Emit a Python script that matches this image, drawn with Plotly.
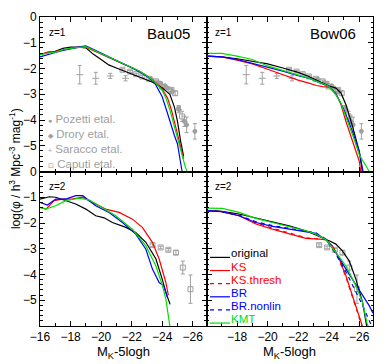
import plotly.graph_objects as go
from plotly.subplots import make_subplots

# ---- model curves, z=1, Bau05 (top left)
bau1_black_x = [-16, -16.5, -17, -17.5, -18, -18.5, -19, -19.5, -20, -20.5, -21, -21.5, -22, -22.5, -23, -23.5, -24, -24.5, -24.8, -25.0, -25.2, -25.4]
bau1_black_y = [-1.46, -1.38, -1.33, -1.22, -1.17, -1.17, -1.2, -1.45, -1.65, -1.86, -1.98, -2.1, -2.22, -2.33, -2.44, -2.56, -2.75, -3.0, -3.5, -4.05, -4.8, -5.4]
bau1_red_x = [-16, -16.5, -17, -17.5, -18, -18.5, -19, -19.5, -20, -20.5, -21, -21.5, -22, -22.5, -23, -23.5, -24, -24.35, -24.6, -24.85, -25.1, -25.4]
bau1_red_y = [-1.46, -1.36, -1.33, -1.28, -1.23, -1.18, -1.17, -1.3, -1.42, -1.56, -1.7, -1.83, -1.96, -2.1, -2.28, -2.5, -2.8, -3.15, -3.6, -4.19, -4.8, -5.5]
bau1_blue_x = [-16, -16.5, -17, -17.5, -18, -18.5, -19, -19.5, -20, -20.5, -21, -21.5, -22, -22.5, -23, -23.5, -24, -24.3, -24.57, -24.8, -25.0, -25.3]
bau1_blue_y = [-1.55, -1.45, -1.38, -1.3, -1.22, -1.17, -1.12, -1.25, -1.4, -1.55, -1.7, -1.83, -1.96, -2.12, -2.3, -2.55, -3.1, -3.65, -4.19, -4.6, -4.93, -6.0]
bau1_green_x = [-16, -16.5, -17, -17.5, -18, -18.5, -19, -19.5, -20, -20.5, -21, -21.5, -22, -22.5, -23, -23.5, -24, -24.24, -24.5, -24.78, -25.1, -25.5, -25.8]
bau1_green_y = [-1.46, -1.4, -1.38, -1.27, -1.22, -1.18, -1.15, -1.28, -1.42, -1.56, -1.7, -1.83, -1.96, -2.1, -2.28, -2.52, -2.85, -3.15, -3.6, -4.19, -4.93, -5.8, -6.25]

# ---- model curves, z=1, Bow06 (top right)
bow1_x = [-16, -17, -18, -19, -20, -21, -22, -22.7, -23.2, -23.6, -24.03, -24.47, -24.8, -25.13, -25.56, -26.0]
bow1_black_y = [-1.52, -1.55, -1.62, -1.72, -1.82, -1.98, -2.15, -2.31, -2.45, -2.57, -2.68, -2.76, -2.95, -3.41, -4.25, -5.22]
bow1_red_y = [-1.52, -1.55, -1.68, -1.82, -2.03, -2.25, -2.45, -2.57, -2.66, -2.7, -2.72, -2.96, -3.4, -4.06, -4.83, -5.6]
bow1_blue_y = [-1.52, -1.55, -1.65, -1.8, -1.97, -2.1, -2.28, -2.38, -2.5, -2.6, -2.7, -3.0, -3.35, -3.8, -4.45, -5.22]
bow1_green_y = [-1.41, -1.41, -1.52, -1.65, -1.9, -2.08, -2.25, -2.38, -2.5, -2.58, -2.7, -3.02, -3.35, -3.85, -4.57, -5.35]
bow1_end_x = {"black": -26.2, "red": -26.1, "blue": -26.25, "green": -26.66}

# ---- model curves, z=2, Bau05 (bottom left)
bau2_black_x = [-16, -16.6, -17.03, -17.69, -18.34, -19, -19.65, -20.2, -20.74, -21.62, -22.27, -22.93, -23.59, -24.0, -24.24, -24.52]
bau2_black_y = [-1.07, -0.98, -1.0, -1.13, -1.26, -1.46, -1.72, -1.8, -1.98, -2.17, -2.37, -2.75, -3.4, -4.18, -4.7, -5.16]
bau2_red_x = [-16, -16.4, -16.92, -17.46, -18.1, -18.77, -19.43, -20.3, -21.18, -22.05, -22.7, -23.36, -23.8, -24.24, -24.4]
bau2_red_y = [-1.39, -1.46, -1.13, -1.07, -1.07, -1.0, -1.2, -1.46, -1.59, -1.85, -2.17, -2.75, -3.4, -4.31, -4.8]
bau2_blue_x = [-16, -16.48, -17.03, -17.69, -18.34, -18.8, -19.65, -20.52, -21.4, -22.27, -22.93, -23.36, -23.8, -24.1, -24.35]
bau2_blue_y = [-1.2, -1.3, -1.07, -1.07, -0.94, -0.94, -1.33, -1.59, -1.98, -2.43, -3.02, -3.79, -4.31, -4.44, -4.9]
bau2_green_x = [-16, -16.37, -17.03, -17.69, -18.56, -19.2, -19.87, -20.96, -22.05, -22.93, -23.59, -24.02, -24.24, -24.46, -24.55]
bau2_green_y = [-1.39, -1.46, -1.33, -1.13, -1.04, -1.1, -1.33, -1.72, -2.24, -2.89, -3.67, -4.44, -4.96, -5.87, -6.2]

# ---- model curves, z=2, Bow06 (bottom right)
bow2_black_x = [-16, -17, -18.13, -19.23, -20.31, -21.41, -22.5, -23.6, -24.03, -24.47, -24.9, -25.34, -25.78, -26.22, -26.44, -26.5]
bow2_black_y = [-1.52, -1.55, -1.65, -1.8, -1.95, -2.11, -2.3, -2.56, -2.69, -2.82, -3.08, -3.47, -4.18, -5.09, -5.87, -6.05]
bow2_red_x = [-16, -17, -18.13, -19.23, -20.31, -21.41, -22.5, -23.38, -23.82, -24.25, -24.69, -25.13, -25.56, -26.0, -26.2]
bow2_red_y = [-1.52, -1.56, -1.72, -2.04, -2.24, -2.43, -2.6, -2.63, -2.65, -2.89, -3.4, -4.05, -4.83, -5.61, -6.0]
bow2_redthr_y = [-1.52, -1.56, -1.7, -2.0, -2.2, -2.4, -2.57, -2.62, -2.65, -2.92, -3.45, -4.1, -4.9, -5.7, -6.05]
bow2_blue_x = [-16, -17, -18.13, -19.23, -20.31, -21.41, -22.5, -23.16, -23.82, -24.47, -25.13, -25.56, -26.22, -26.66, -26.9]
bow2_blue_y = [-1.52, -1.56, -1.72, -1.98, -2.13, -2.24, -2.34, -2.4, -2.65, -3.14, -3.79, -4.18, -4.83, -5.22, -5.5]
bow2_bluenl_y = [-1.52, -1.56, -1.7, -1.95, -2.1, -2.2, -2.3, -2.38, -2.63, -3.2, -3.9, -4.4, -5.2, -5.8, -6.1]
bow2_green_x = [-16, -17.04, -18.13, -19.23, -20.31, -21.41, -22.5, -23.16, -23.82, -24.47, -25.13, -25.78, -26.22, -26.5, -26.7]
bow2_green_y = [-1.42, -1.43, -1.59, -1.82, -1.98, -2.13, -2.3, -2.43, -2.65, -3.14, -3.67, -4.44, -5.09, -5.87, -6.2]

# ---- observations, z=1
pozetti_x = [-23.9, -24.35, -25.07, -25.6, -26.14]
pozetti_y = [-2.57, -2.76, -3.54, -4.19, -4.44]
pozetti_err = [0.05, 0.06, 0.1, 0.3, 0.3]
drory_x = [-23.3, -23.75, -24.2, -24.65, -25.1, -25.45]
drory_y = [-2.42, -2.55, -2.68, -2.9, -3.6, -4.05]
drory_err = [0.04, 0.05, 0.06, 0.08, 0.12, 0.2]
saracco_x = [-18.6, -19.65, -20.6, -21.6]
saracco_y = [-2.24, -2.38, -2.29, -2.38]
saracco_err = [0.36, 0.23, 0.1, 0.1]
caputi1_x = [-21.4, -21.9, -22.3, -22.7, -23.15, -23.6, -24.0, -24.6, -24.85, -25.3]
caputi1_y = [-2.05, -2.12, -2.22, -2.31, -2.4, -2.5, -2.7, -2.83, -2.96, -3.86]
caputi1_err = [0.04, 0.04, 0.04, 0.04, 0.04, 0.05, 0.05, 0.06, 0.08, 0.2]
# ---- observations, z=2
caputi2_x = [-23.37, -23.9, -24.4, -24.9, -25.35, -25.85]
caputi2_y = [-2.86, -2.95, -3.04, -3.15, -3.73, -4.57]
caputi2_err = [0.05, 0.05, 0.05, 0.08, 0.25, 0.55]

legend_models = ["original", "KS", "KS.thresh", "BR", "BR.nonlin", "KMT"]
legend_obs = ["Pozetti etal.", "Drory etal.", "Saracco etal.", "Caputi etal."]

BLACK, RED, BLUE, GREEN, GREY = "#000000", "#ff0000", "#0000ff", "#00e000", "#a0a0a0"
FONT = "Liberation Sans, Arial, Helvetica, sans-serif"

fig = make_subplots(rows=2, cols=2, horizontal_spacing=0, vertical_spacing=0)


def obs(x, y, err, symbol, row, col, size=4):
    fig.add_trace(go.Scatter(
        x=x, y=y, mode="markers",
        error_y=dict(type="data", array=err, color=GREY, thickness=1, width=2),
        marker=dict(symbol=symbol, size=size, color=GREY, line=dict(color=GREY, width=1)),
        showlegend=False), row=row, col=col)


def curve(x, y, color, row, col, dash="solid"):
    fig.add_trace(go.Scatter(x=x, y=y, mode="lines",
                             line=dict(color=color, width=1.2, dash=dash),
                             showlegend=False), row=row, col=col)


for c in (1, 2):
    obs(saracco_x, saracco_y, saracco_err, "line-ew", 1, c, size=5)
    obs(caputi1_x, caputi1_y, caputi1_err, "square-open", 1, c, size=5)
    obs(drory_x, drory_y, drory_err, "diamond", 1, c)
    obs(pozetti_x, pozetti_y, pozetti_err, "circle", 1, c)
    obs(caputi2_x, caputi2_y, caputi2_err, "square-open", 2, c, size=5)

curve(bau1_black_x, bau1_black_y, BLACK, 1, 1)
curve(bau1_red_x, bau1_red_y, RED, 1, 1)
curve(bau1_blue_x, bau1_blue_y, BLUE, 1, 1)
curve(bau1_green_x, bau1_green_y, GREEN, 1, 1)

for name, col, ys in [("black", BLACK, bow1_black_y), ("red", RED, bow1_red_y),
                      ("blue", BLUE, bow1_blue_y), ("green", GREEN, bow1_green_y)]:
    curve(bow1_x + [bow1_end_x[name]], ys + [-6.0], col, 1, 2)

curve(bau2_black_x, bau2_black_y, BLACK, 2, 1)
curve(bau2_red_x, bau2_red_y, RED, 2, 1)
curve(bau2_blue_x, bau2_blue_y, BLUE, 2, 1)
curve(bau2_green_x, bau2_green_y, GREEN, 2, 1)

curve(bow2_black_x, bow2_black_y, BLACK, 2, 2)
curve(bow2_red_x, bow2_red_y, RED, 2, 2)
curve(bow2_red_x, bow2_redthr_y, RED, 2, 2, dash="4px,4px")
curve(bow2_blue_x, bow2_blue_y, BLUE, 2, 2)
curve(bow2_blue_x, bow2_bluenl_y, BLUE, 2, 2, dash="4px,4px")
curve(bow2_green_x, bow2_green_y, GREEN, 2, 2)

xmajor = [-16, -18, -20, -22, -24, -26]
ymajor = [0, -1, -2, -3, -4, -5]
axis_common = dict(showline=True, linecolor="black", linewidth=1, mirror="allticks",
                   ticks="inside", ticklen=5, tickcolor="black", showgrid=False, zeroline=False,
                   automargin=False,
                   tickfont=dict(family=FONT, size=12, color="black"))

for r in (1, 2):
    for c in (1, 2):
        fig.update_xaxes(axis_common, range=[-16, -26.9], row=r, col=c,
                         tickvals=xmajor if c == 1 else xmajor[1:],
                         showticklabels=(r == 2),
                         minor=dict(ticks="inside", dtick=1, ticklen=3, tickcolor="black"))
        fig.update_yaxes(axis_common, range=[-6, 0], row=r, col=c,
                         tickvals=ymajor, showticklabels=(c == 1),
                         minor=dict(ticks="inside", dtick=0.2, ticklen=2.5, tickcolor="black"))

ann = []
for i, (xr, yr) in enumerate([("x", "y"), ("x2", "y2"), ("x3", "y3"), ("x4", "y4")]):
    ann.append(dict(text="z=1" if i < 2 else "z=2", xref=xr + " domain", yref=yr + " domain",
                    x=0.04, y=0.9, xanchor="left", yanchor="middle", showarrow=False,
                    font=dict(family=FONT, size=10, color="black")))
ann.append(dict(text="Bau05", xref="x domain", yref="y domain", x=0.91, y=0.895,
                xanchor="right", yanchor="middle", showarrow=False,
                font=dict(family=FONT, size=15, color="black")))
ann.append(dict(text="Bow06", xref="x2 domain", yref="y2 domain", x=0.91, y=0.895,
                xanchor="right", yanchor="middle", showarrow=False,
                font=dict(family=FONT, size=15, color="black")))

# observation key (top left)
obs_marks = ["●", "◆", "+", "⊡"]
for i, (m, name) in enumerate(zip(obs_marks, legend_obs)):
    ann.append(dict(text=f"<span style='font-size:7px'>{m}</span> {name}",
                    xref="x domain", yref="y domain", x=0.035, y=0.34 - i * 0.097,
                    xanchor="left", yanchor="middle", showarrow=False,
                    font=dict(family=FONT, size=11.5, color=GREY)))

# model key (bottom right)
shapes = []
key_cols = [BLACK, RED, RED, BLUE, BLUE, GREEN]
key_dash = ["solid", "solid", "4px,4px", "solid", "4px,4px", "solid"]
for i, (name, col, d) in enumerate(zip(legend_models, key_cols, key_dash)):
    yt = 0.47 - i * 0.085
    shapes.append(dict(type="line", xref="x4 domain", yref="y4 domain",
                       x0=0.021, x1=0.141, y0=yt - 0.026, y1=yt - 0.026,
                       line=dict(color=col, width=1.2, dash=d)))
    ann.append(dict(text=name, xref="x4 domain", yref="y4 domain", x=0.138, y=yt,
                    xanchor="left", yanchor="middle", showarrow=False,
                    font=dict(family=FONT, size=11.5, color=col)))

# axis titles
for xr in ("x3", "x4"):
    ann.append(dict(text="M<sub>K</sub>-5logh", xref=xr + " domain", yref="paper",
                    x=0.5, y=-0.085, xanchor="center", yanchor="middle", showarrow=False,
                    font=dict(family=FONT, size=13, color="black")))
ann.append(dict(text="log(φ / h<sup>3</sup> Mpc<sup>-3</sup> mag<sup>-1</sup>)", textangle=-90,
                xref="paper", yref="paper", x=-0.073, y=0.51, xanchor="center",
                yanchor="middle", showarrow=False, font=dict(family=FONT, size=12, color="black")))

# the page body keeps its default 8px margin, so the figure is 8px smaller
fig.update_layout(width=382, height=356, margin=dict(l=32, r=17, t=9, b=38),
                  paper_bgcolor="white", plot_bgcolor="white", showlegend=False,
                  annotations=ann, shapes=shapes, font=dict(family=FONT))

fig.write_html("out.html")
